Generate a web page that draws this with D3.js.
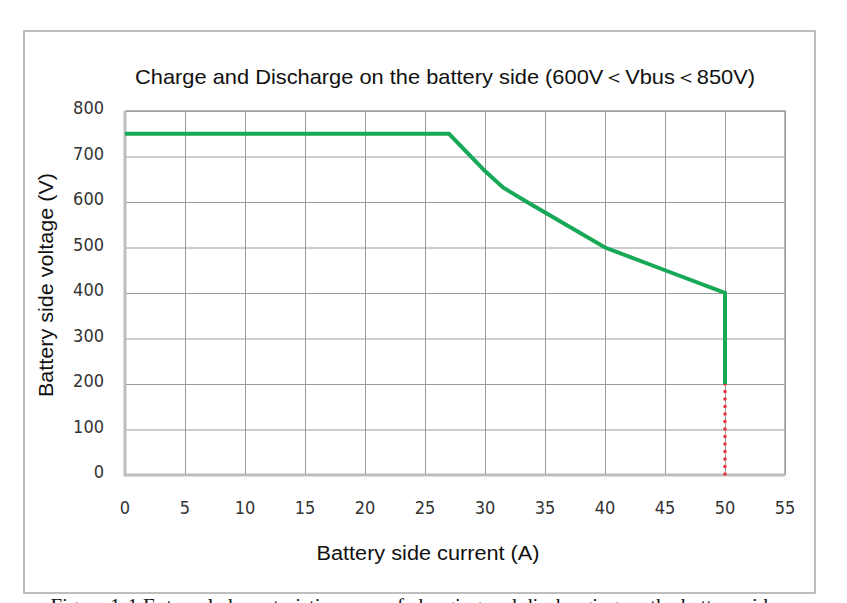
<!DOCTYPE html>
<html>
<head>
<meta charset="utf-8">
<script src="https://cdn.jsdelivr.net/npm/d3@7"></script>
<style>
  body { margin: 0; background: #fff; }
</style>
</head>
<body>
<svg id="chart" width="847" height="603"></svg>
<script>
(function() {
    // data
    var currentA = [0, 27, 30, 31.5, 33.5, 40, 45, 50, 50];
    var voltageV = [750, 750, 668, 632, 600, 500, 450, 400, 200];
    var limitCurrent = [50, 50];
    var limitVoltage = [200, 0];
    var xTicks = [0, 5, 10, 15, 20, 25, 30, 35, 40, 45, 50, 55];
    var yTicks = [0, 100, 200, 300, 400, 500, 600, 700, 800];

    var margin = {top: 111, right: 62, bottom: 128, left: 125},
        width = 847 - margin.left - margin.right,
        height = 603 - margin.top - margin.bottom;

    var sans = "'Liberation Sans', Arial, sans-serif";
    var tickFont = "'DejaVu Sans Condensed', 'DejaVu Sans', sans-serif";

    var svg = d3.select("#chart");

    // outer frame
    svg.append("rect")
        .attr("x", 24).attr("y", 31)
        .attr("width", 791).attr("height", 562)
        .attr("fill", "none")
        .attr("stroke", "#a8a8a8")
        .attr("stroke-width", 1.5);

    svg.append("text")
        .attr("x", 445).attr("y", 84)
        .attr("text-anchor", "middle")
        .style("font-family", sans)
        .attr("font-size", 21)
        .attr("textLength", 620)
        .attr("lengthAdjust", "spacingAndGlyphs")
        .attr("fill", "#111")
        .text("Charge and Discharge on the battery side (600V\uFF1CVbus\uFF1C850V)");

    var chart = svg.append("g")
        .attr("transform", "translate(" + margin.left + "," + margin.top + ")");

    var x = d3.scaleLinear().domain([0, 55]).range([0, width]);
    var y = d3.scaleLinear().domain([0, 800]).range([height, 0]);

    // grid
    chart.append("g")
        .call(d3.axisBottom(x).tickValues(xTicks).tickSize(-height).tickFormat(""))
        .attr("transform", "translate(0," + height + ")")
        .call(g => g.select(".domain").remove())
        .selectAll("line").attr("stroke", "#9a9a9a");
    chart.append("g")
        .call(d3.axisLeft(y).tickValues(yTicks).tickSize(-width).tickFormat(""))
        .call(g => g.select(".domain").remove())
        .selectAll("line").attr("stroke", "#9a9a9a");

    // top / right border of plot
    chart.append("path")
        .attr("d", "M0,0H" + width + "V" + height)
        .attr("fill", "none")
        .attr("stroke", "#a0a0a0")
        .attr("stroke-width", 1.5);

    // thick left / bottom axis lines
    chart.append("path")
        .attr("d", "M0,0V" + height + "H" + width)
        .attr("fill", "none")
        .attr("stroke", "#bdbdbd")
        .attr("stroke-width", 3);

    // tick labels
    chart.selectAll(".xl")
        .data(xTicks)
        .join("text")
        .attr("x", d => x(d))
        .attr("y", height + 39)
        .attr("text-anchor", "middle")
        .style("font-family", tickFont)
        .attr("font-size", 18)
        .attr("fill", "#333")
        .text(d => d);

    chart.selectAll(".yl")
        .data(yTicks)
        .join("text")
        .attr("x", -21)
        .attr("y", d => y(d) + 3)
        .attr("text-anchor", "end")
        .style("font-family", tickFont)
        .attr("font-size", 18)
        .attr("fill", "#333")
        .text(d => d);

    // axis titles
    svg.append("text")
        .attr("x", 428).attr("y", 560)
        .attr("text-anchor", "middle")
        .style("font-family", sans)
        .attr("font-size", 20)
        .attr("textLength", 223)
        .attr("lengthAdjust", "spacingAndGlyphs")
        .attr("fill", "#111")
        .text("Battery side current (A)");

    svg.append("text")
        .attr("transform", "translate(53,285) rotate(-90)")
        .attr("text-anchor", "middle")
        .style("font-family", sans)
        .attr("font-size", 20)
        .attr("textLength", 224)
        .attr("lengthAdjust", "spacingAndGlyphs")
        .attr("fill", "#111")
        .text("Battery side voltage (V)");

    // curves
    var line = d3.line()
        .x(d => x(d[0]))
        .y(d => y(d[1]));

    chart.append("path")
        .datum(d3.zip(limitCurrent, limitVoltage))
        .attr("d", line)
        .attr("fill", "none")
        .attr("stroke", "#e8303a")
        .attr("stroke-width", 3.5)
        .attr("stroke-linecap", "round")
        .attr("stroke-dasharray", "0 7.5");

    chart.append("path")
        .datum(d3.zip(currentA, voltageV))
        .attr("d", line)
        .attr("fill", "none")
        .attr("stroke", "#17a858")
        .attr("stroke-width", 4)
        .attr("stroke-linejoin", "miter");

    // caption, cut off by the bottom of the picture (as in the source)
    svg.append("text")
        .attr("x", 414).attr("y", 612)
        .attr("text-anchor", "middle")
        .style("font-family", "'Liberation Serif', serif")
        .attr("font-size", 19)
        .attr("textLength", 727)
        .attr("lengthAdjust", "spacingAndGlyphs")
        .attr("fill", "#111")
        .text("Figure 1-1 External characteristic curve of charging and discharging on the battery side");
})();
</script>
</body>
</html>
